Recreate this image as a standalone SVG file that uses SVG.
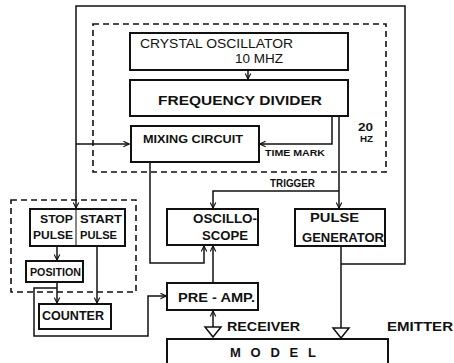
<svg xmlns="http://www.w3.org/2000/svg" width="454" height="363" viewBox="0 0 454 363">
<defs>
<style>
.box{fill:#fff;stroke:#111;stroke-width:2}
.dash{fill:none;stroke:#111;stroke-width:1.6;stroke-dasharray:6 4}
.ln{fill:none;stroke:#111;stroke-width:1.5}
.t{font-family:"Liberation Sans",Arial,sans-serif;font-weight:bold;fill:#111}
.n{font-weight:normal}
</style>
<marker id="ar" viewBox="0 0 10 10" refX="9" refY="5" markerWidth="7" markerHeight="7" orient="auto" markerUnits="userSpaceOnUse">
<path d="M1,1 L9,5 L1,9" fill="none" stroke="#111" stroke-width="1.6"/>
</marker>
</defs>
<rect width="454" height="363" fill="#fff"/>
<g id="groups">
<rect class="dash" x="93" y="24" width="293" height="148"/>
<rect class="dash" x="11" y="200" width="125" height="92"/>
</g>
<g id="connectors">
<path class="ln" d="M341,264 H405 V6 H76 V208" marker-end="url(#ar)"/>
<path class="ln" d="M76,144 H129" marker-end="url(#ar)"/>
<path class="ln" d="M248,70 V79" marker-end="url(#ar)"/>
<path class="ln" d="M332,116 V144 H260" marker-end="url(#ar)"/>
<path class="ln" d="M339,116 V208" marker-end="url(#ar)"/>
<path class="ln" d="M339,191 H213 V208" marker-end="url(#ar)"/>
<path class="ln" d="M150,162 V263 H204 V246" marker-end="url(#ar)"/>
<path class="ln" d="M213,283 V246" marker-end="url(#ar)"/>
<path class="ln" d="M341,246 V328"/>
<path class="ln" d="M57,246 V260" marker-end="url(#ar)"/>
<path class="ln" d="M97,246 V303" marker-end="url(#ar)"/>
<path class="ln" d="M57,282 V303" marker-end="url(#ar)"/>
<path class="ln" d="M57,288 H34 V336 H148 V296 H166" marker-end="url(#ar)"/>
<path class="ln" d="M213,327 V311" marker-end="url(#ar)"/>
<polygon class="ln" points="205,327 221,327 213,337"/>
<polygon class="ln" points="333,328 349,328 341,338"/>
</g>
<g id="crystal">
<rect class="box" x="130" y="33" width="218" height="37"/>
<text class="t n" x="140" y="48" font-size="13" textLength="153" lengthAdjust="spacingAndGlyphs">CRYSTAL  OSCILLATOR</text>
<text class="t n" x="235" y="63" font-size="13" textLength="48" lengthAdjust="spacingAndGlyphs">10 MHZ</text>
</g>
<g id="divider">
<rect class="box" x="130" y="80" width="218" height="36"/>
<text class="t" x="158" y="105" font-size="13.5" textLength="164" lengthAdjust="spacingAndGlyphs">FREQUENCY  DIVIDER</text>
</g>
<g id="mixing">
<rect class="box" x="131" y="126" width="128" height="36"/>
<text class="t" x="143" y="143" font-size="11.5" textLength="100" lengthAdjust="spacingAndGlyphs">MIXING CIRCUIT</text>
</g>
<g id="labels">
<text class="t" x="265" y="156" font-size="8.5" textLength="60" lengthAdjust="spacingAndGlyphs">TIME MARK</text>
<text class="t" x="270" y="187" font-size="10" textLength="45" lengthAdjust="spacingAndGlyphs">TRIGGER</text>
<text class="t" x="358" y="131" font-size="11" textLength="15" lengthAdjust="spacingAndGlyphs">20</text>
<text class="t" x="360" y="142" font-size="9.5" textLength="13" lengthAdjust="spacingAndGlyphs">HZ</text>
<text class="t" x="227" y="331" font-size="13" textLength="73" lengthAdjust="spacingAndGlyphs">RECEIVER</text>
<text class="t" x="387" y="331" font-size="13" textLength="66" lengthAdjust="spacingAndGlyphs">EMITTER</text>
</g>
<g id="oscilloscope">
<rect class="box" x="167" y="209" width="91" height="36"/>
<text class="t" x="193" y="223" font-size="12" textLength="64" lengthAdjust="spacingAndGlyphs">OSCILLO-</text>
<text class="t" x="202" y="240" font-size="12" textLength="46" lengthAdjust="spacingAndGlyphs">SCOPE</text>
</g>
<g id="pulsegen">
<rect class="box" x="295" y="209" width="90" height="37"/>
<text class="t" x="310" y="222" font-size="13" textLength="49" lengthAdjust="spacingAndGlyphs">PULSE</text>
<text class="t" x="302" y="242" font-size="13" textLength="82" lengthAdjust="spacingAndGlyphs">GENERATOR</text>
</g>
<g id="stopstart">
<rect class="box" x="30" y="209" width="95" height="37"/>
<line x1="76" y1="209" x2="76" y2="246" stroke="#111" stroke-width="1"/>
<text class="t" x="40" y="223" font-size="11.5" textLength="33" lengthAdjust="spacingAndGlyphs">STOP</text>
<text class="t" x="33" y="239" font-size="11.5" textLength="40" lengthAdjust="spacingAndGlyphs">PULSE</text>
<text class="t" x="80" y="223" font-size="11.5" textLength="42" lengthAdjust="spacingAndGlyphs">START</text>
<text class="t" x="80" y="239" font-size="11.5" textLength="37" lengthAdjust="spacingAndGlyphs">PULSE</text>
</g>
<g id="position">
<rect class="box" x="26" y="261" width="57" height="21"/>
<text class="t" x="30" y="276" font-size="10" textLength="51" lengthAdjust="spacingAndGlyphs">POSITION</text>
</g>
<g id="counter">
<rect class="box" x="39" y="304" width="72" height="25"/>
<text class="t" x="42" y="320" font-size="13" textLength="62" lengthAdjust="spacingAndGlyphs">COUNTER</text>
</g>
<g id="preamp">
<rect class="box" x="167" y="283" width="91" height="27"/>
<text class="t" x="178" y="302" font-size="13" textLength="77" lengthAdjust="spacingAndGlyphs">PRE - AMP.</text>
</g>
<g id="model">
<path d="M167,363 V339 H388 V363" fill="none" stroke="#111" stroke-width="2"/>
<text class="t" x="230" y="357" font-size="13" textLength="86" lengthAdjust="spacing">MODEL</text>
</g>
</svg>
